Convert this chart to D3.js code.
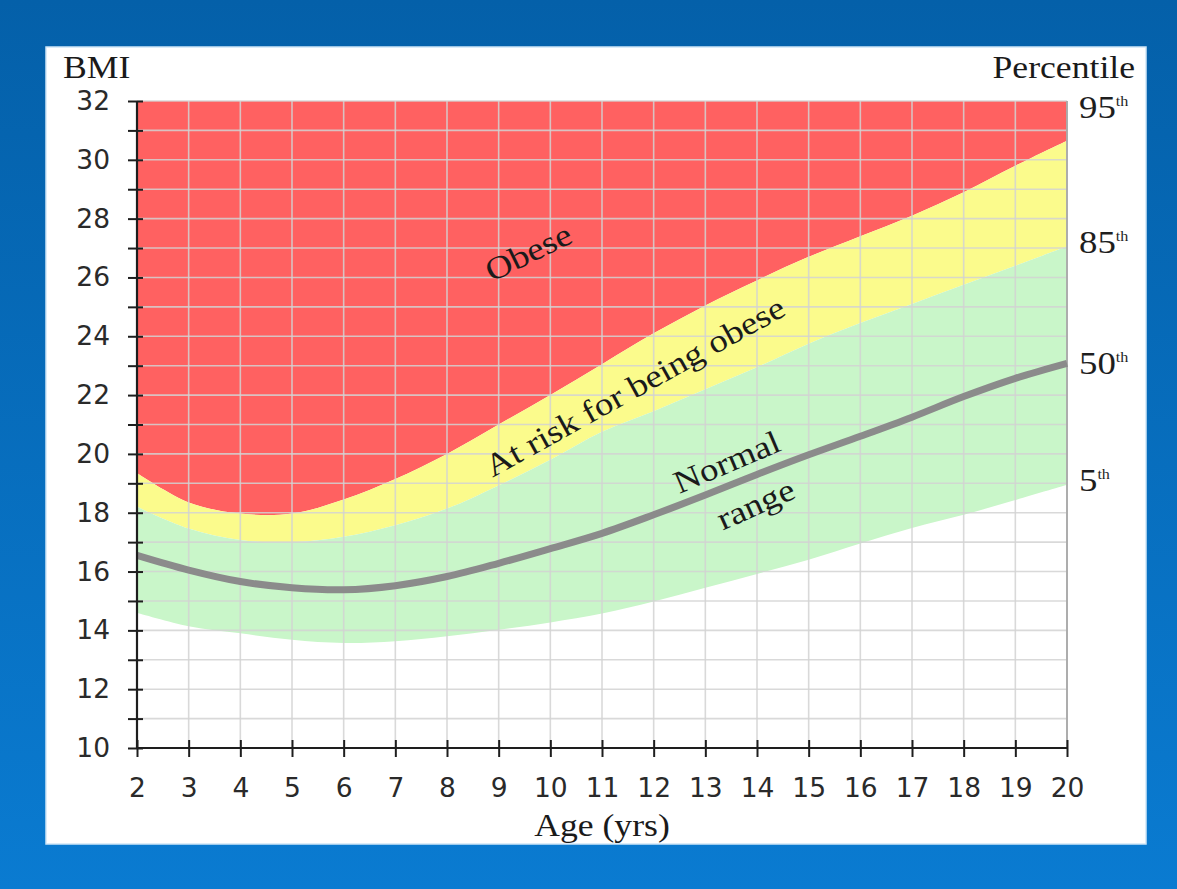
<!DOCTYPE html>
<html><head><meta charset="utf-8">
<script src="https://cdn.jsdelivr.net/npm/d3@7"></script>
<style>html,body{margin:0;padding:0;overflow:hidden;background:#0564ad}</style>
</head><body><svg id="c" width="1177" height="889"></svg>
<script>
// ---- data ----
const ages = [2,3,4,5,6,7,8,9,10,11,12,13,14,15,16,17,18,19,20];
const p95  = [19.35,18.35,17.97,17.97,18.45,19.15,20.0,21.0,22.0,23.05,24.1,25.05,25.9,26.7,27.4,28.1,28.9,29.8,30.65];
const p85  = [18.2,17.46,17.07,17.0,17.18,17.57,18.14,18.93,19.8,20.75,21.45,22.2,22.95,23.75,24.45,25.1,25.75,26.4,27.05];
const p50  = [16.55,16.05,15.66,15.45,15.38,15.52,15.83,16.28,16.78,17.3,17.93,18.6,19.3,19.97,20.6,21.25,21.95,22.57,23.08];
const p5   = [14.6,14.14,13.9,13.68,13.57,13.63,13.8,14.02,14.27,14.57,14.98,15.45,15.92,16.4,16.95,17.48,17.93,18.43,18.95];
const bmiTicks = [10,11,12,13,14,15,16,17,18,19,20,21,22,23,24,25,26,27,28,29,30,31,32];
const percentileNames = ["95","85","50","5"];
const percentileAt = [31.8,27.2,23.1,19.1];
const zoneNames = ["Obese","At risk for being obese","Normal","range"];

// ---- layout ----
const svg = d3.select("#c");
const defs = svg.append("defs");
const g = defs.append("linearGradient").attr("id","bg").attr("x1",0).attr("y1",0).attr("x2",0).attr("y2",1);
g.append("stop").attr("offset","0%").attr("stop-color","#0460a9");
g.append("stop").attr("offset","100%").attr("stop-color","#0a7bd1");
svg.append("rect").attr("width",1177).attr("height",889).attr("fill","url(#bg)");
svg.append("rect").attr("x",46).attr("y",47).attr("width",1100).attr("height",797)
  .attr("fill","#ffffff").attr("stroke","#cfe6f7").attr("stroke-width",1.5);

const x = d3.scaleLinear().domain([2,20]).range([137,1067]);
const y = d3.scaleLinear().domain([10,32]).range([748,101]);
const curve = d3.curveCatmullRom.alpha(0.5);
const idx = d3.range(ages.length);

function band(top, bot, color){
  const a = d3.area().curve(curve).x(i=>x(ages[i]))
    .y0(i=> bot ? y(bot[i]) : y(10)).y1(i=> top ? y(top[i]) : y(32));
  svg.append("path").attr("d", a(idx)).attr("fill", color);
}
band(null, p95, "#ff6161");
band(p95, p85, "#fbfb8c");
band(p85, p5, "#c9f6c9");

// grid
const grid = svg.append("g").attr("stroke","#d2d2d2").attr("stroke-opacity",0.85).attr("stroke-width",1.6);
ages.slice(1).forEach(a=>grid.append("line").attr("x1",x(a)).attr("x2",x(a)).attr("y1",y(32)).attr("y2",y(10)));
bmiTicks.slice(1).forEach(b=>grid.append("line").attr("x1",x(2)).attr("x2",x(20)).attr("y1",y(b)).attr("y2",y(b)));
svg.append("line").attr("x1",x(20)).attr("x2",x(20)).attr("y1",y(32)).attr("y2",y(10)).attr("stroke","#a8a8a8").attr("stroke-width",1.8);

// 50th line
svg.append("path").attr("d", d3.line().curve(curve).x(i=>x(ages[i])).y(i=>y(p50[i]))(idx))
  .attr("fill","none").attr("stroke","#8b8b8b").attr("stroke-width",7);

// axes
const yAxis = svg.append("g").attr("transform",`translate(${x(2)},0)`)
  .call(d3.axisLeft(y).tickValues(bmiTicks).tickSize(9).tickPadding(18).tickFormat(d=> d%2===0 ? d : ""));
const xAxis = svg.append("g").attr("transform",`translate(0,${y(10)})`)
  .call(d3.axisBottom(x).tickValues(ages).tickSize(9).tickPadding(21).tickFormat(d3.format("d")));
[yAxis, xAxis].forEach(ax=>{
  ax.select(".domain").attr("stroke","#1e1e1e").attr("stroke-width",2.2);
  ax.selectAll(".tick line").attr("stroke","#1e1e1e").attr("stroke-width",2);
  ax.selectAll(".tick text").attr("fill","#2a2a2a").style("font-family","'DejaVu Sans', sans-serif").style("font-size","26.5px");
});
yAxis.selectAll(".tick line").attr("x1",6).attr("x2",-9);
xAxis.selectAll(".tick line").attr("y1",-8).attr("y2",9);
yAxis.select(".domain").attr("d",`M0,${y(32)}V${y(10)}`);
xAxis.select(".domain").attr("d",`M${x(2)},0H${x(20)}`);

// serif text helper with slight horizontal stretch
function stext(px, py, str, size, anchor, rot){
  return svg.append("text")
    .attr("transform",`translate(${px},${py}) rotate(${rot||0}) scale(1.15,1)`)
    .attr("text-anchor",anchor||"start")
    .style("font-family","'Liberation Serif','Times New Roman',serif")
    .style("font-size",size+"px").attr("fill","#1a1a1a").text(str);
}
stext(63, 78, "BMI", 31, "start");
stext(1135, 78, "Percentile", 31, "end");
stext(602, 836, "Age (yrs)", 31, "middle");

percentileNames.forEach((p,i)=>{
  const t = svg.append("text")
    .attr("transform",`translate(1079,${y(percentileAt[i])+11}) scale(1.15,1)`)
    .style("font-family","'Liberation Serif','Times New Roman',serif")
    .style("font-size","32px").attr("fill","#1e1e1e");
  t.append("tspan").text(p);
  t.append("tspan").attr("dy",-12).style("font-size","14px").text("th");
});

// zone labels
const zl = [[533,262,-26,0],[640,396,-29,1],[731,472,-23,2],[760,514,-24,3]];
zl.forEach(([cx,cy,r,k])=>{
  stext(cx, cy, zoneNames[k], 32, "middle", r);
});
</script></body></html>
